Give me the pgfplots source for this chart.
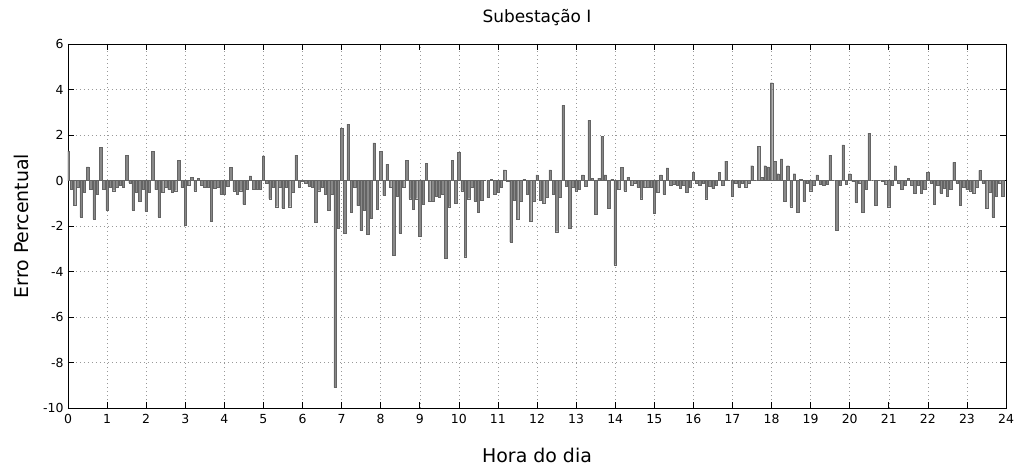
\documentclass[border=0pt]{standalone}
\usepackage{fontspec}
\setmainfont{DejaVu Sans}
\usepackage{pgfplots}
\pgfplotsset{compat=1.18}
\usepackage{pgfplotstable}
\usetikzlibrary{calc}
\definecolor{barfill}{RGB}{136,136,136}
\definecolor{baredge}{RGB}{100,100,100}

% erro percentual a cada 5 minutos (k = indice do intervalo, 12 por hora)
\pgfplotstableread{
k v
0 1.3
1 -0.4
2 -1.1
3 -0.3
4 -1.6
5 -0.5
6 0.6
7 -0.4
8 -1.7
9 -0.6
10 1.45
11 -0.4
12 -1.3
13 -0.3
14 -0.45
15 -0.3
16 -0.2
17 -0.3
18 1.1
19 -0.1
20 -1.3
21 -0.5
22 -0.9
23 -0.4
24 -1.35
25 -0.5
26 1.27
27 -0.4
28 -1.6
29 -0.5
30 -0.3
31 -0.4
32 -0.5
33 -0.45
34 0.9
35 -0.3
36 -1.95
37 -0.2
38 0.15
39 -0.45
40 0.1
41 -0.2
42 -0.3
43 -0.3
44 -1.8
45 -0.35
46 -0.3
47 -0.6
48 -0.6
49 -0.25
50 0.57
51 -0.45
52 -0.6
53 -0.45
54 -1.05
55 -0.4
56 0.2
57 -0.4
58 -0.4
59 -0.4
60 1.08
61 -0.1
62 -0.8
63 -0.3
64 -1.15
65 -0.3
66 -1.2
67 -0.3
68 -1.15
69 -0.5
70 1.12
71 -0.3
72 -0.05
73 -0.1
74 -0.25
75 -0.3
76 -1.85
77 -0.45
78 -0.3
79 -0.6
80 -1.3
81 -0.6
82 -9.1
83 -2.1
84 2.3
85 -2.3
86 2.48
87 -1.4
88 -0.3
89 -1.1
90 -2.2
91 -1.3
92 -2.35
93 -1.65
94 1.65
95 -1.25
96 1.28
97 -0.65
98 0.72
99 -0.3
100 -3.3
101 -0.7
102 -2.3
103 -0.3
104 0.9
105 -0.8
106 -1.25
107 -0.8
108 -2.45
109 -1.05
110 0.75
111 -0.9
112 -0.9
113 -0.7
114 -0.75
115 -0.6
116 -3.4
117 -1.15
118 0.9
119 -1.0
120 1.24
121 -0.45
122 -3.35
123 -0.8
124 -0.3
125 -0.9
126 -1.4
127 -0.85
128 0
129 -0.75
130 0.05
131 -0.6
132 -0.5
133 -0.3
134 0.47
135 -0.05
136 -2.7
137 -0.85
138 -1.7
139 -0.9
140 0.05
141 -0.6
142 -1.8
143 -0.9
144 0.25
145 -0.85
146 -1.0
147 -0.75
148 0.47
149 -0.6
150 -2.25
151 -0.75
152 3.3
153 -0.25
154 -2.1
155 -0.3
156 -0.45
157 -0.4
158 0.25
159 -0.25
160 2.65
161 0.1
162 -1.5
163 0.1
164 1.95
165 0.25
166 -1.2
167 0.05
168 -3.7
169 -0.4
170 0.57
171 -0.45
172 0.15
173 -0.2
174 -0.1
175 -0.3
176 -0.8
177 -0.3
178 -0.3
179 -0.3
180 -1.45
181 -0.5
182 0.25
183 -0.6
184 0.55
185 -0.2
186 -0.15
187 -0.2
188 -0.35
189 -0.2
190 -0.5
191 -0.3
192 0.35
193 -0.1
194 -0.2
195 -0.1
196 -0.8
197 -0.25
198 -0.35
199 -0.2
200 0.35
201 -0.2
202 0.85
203 0
204 -0.7
205 -0.1
206 -0.3
207 -0.1
208 -0.3
209 -0.1
210 0.65
211 0
212 1.5
213 0.15
214 0.65
215 0.6
216 4.3
217 0.85
218 0.3
219 0.95
220 -0.9
221 0.65
222 -1.15
223 0.3
224 -1.4
225 0.05
226 -0.9
227 -0.1
228 -0.45
229 -0.2
230 0.25
231 -0.15
232 -0.2
233 -0.15
234 1.12
235 0
236 -2.2
237 -0.2
238 1.57
239 -0.15
240 0.3
241 -0.05
242 -0.95
243 -0.1
244 -1.4
245 -0.4
246 2.08
247 0
248 -1.1
249 0
250 -0.05
251 -0.15
252 -1.15
253 -0.2
254 0.65
255 -0.1
256 -0.4
257 -0.2
258 0.1
259 -0.2
260 -0.55
261 -0.2
262 -0.55
263 -0.4
264 0.35
265 -0.1
266 -1.05
267 -0.2
268 -0.55
269 -0.35
270 -0.7
271 -0.4
272 0.8
273 -0.1
274 -1.1
275 -0.3
276 -0.4
277 -0.45
278 -0.55
279 -0.3
280 0.45
281 -0.1
282 -1.2
283 -0.5
284 -1.6
285 -0.7
286 -0.1
287 -0.7
}\erro

\begin{document}
\begin{tikzpicture}
\begin{axis}[
    name=ax,
    scale only axis,
    width=938bp, height=364bp,
    xmin=0, xmax=288,
    ymin=-10, ymax=6,
    xtick={0,12,...,288},
    xticklabels={0,1,2,3,4,5,6,7,8,9,10,11,12,13,14,15,16,17,18,19,20,21,22,23,24},
    ytick={-10,-8,...,6},
    /pgf/number format/assume math mode=true,
    tick label style={font=\fontsize{12.5}{14}\selectfont},
    xticklabel style={yshift=-3bp},
    yticklabel style={xshift=-1bp},
    tick align=inside,
    major tick length=6bp,
    tick style={black, line width=0.6pt},
    axis line style={black, line width=0.8pt},
    grid=major,
    major grid style={gray!80, line width=0.5pt, dash pattern=on 1bp off 3bp},
    title={Subestação I},
    title style={font=\fontsize{17}{20}\selectfont, at={(axis description cs:0.5,1.044)}, anchor=base},
    xlabel={Hora do dia},
    xlabel style={font=\fontsize{19}{22}\selectfont, at={(axis description cs:0.5,-0.1511)}, anchor=base},
    ylabel={Erro Percentual},
    ylabel style={font=\fontsize{19}{22}\selectfont, at={(axis description cs:-0.0426,0.5)}, anchor=base},
]
\addplot[ybar, bar width=0.75, fill=barfill, draw=baredge, line width=0.3pt] table[x=k, y=v] {\erro};
\end{axis}
\pgfresetboundingbox
\path ($(ax.south west)+(-68bp,-60bp)$) rectangle ($(ax.north east)+(10bp,44bp)$);
\end{tikzpicture}
\end{document}
